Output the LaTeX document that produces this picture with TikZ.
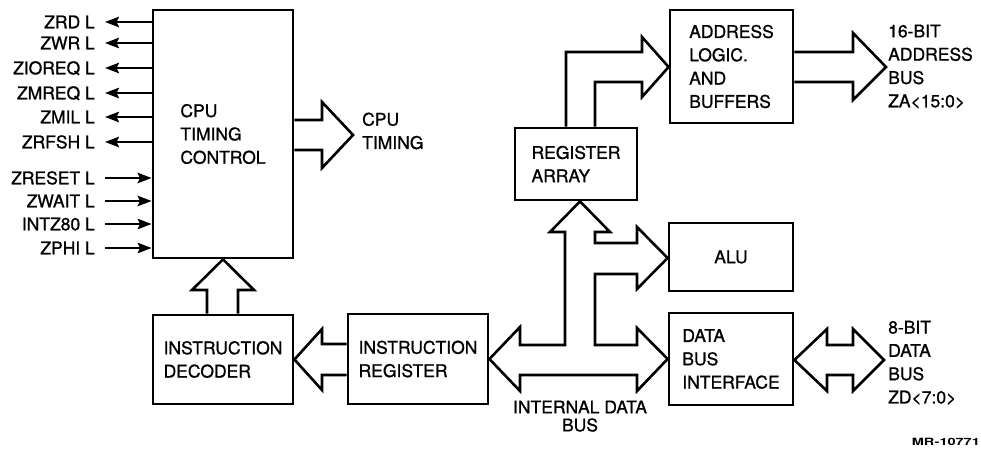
\documentclass[tikz,border=0pt]{standalone}
\usepackage{fontspec}
\setmainfont{TeX Gyre Heros}
\newfontfamily\dgfam{TeX Gyre Heros}[FakeBold=1.0]
\usetikzlibrary{arrows.meta}
\newcommand\dgfont{\dgfam\fontsize{17.5}{23.3}\selectfont}
\tikzset{
  box/.style={draw, line width=2.8pt, inner sep=0pt, align=left, font=\dgfont},
  blk/.style={draw, line width=2.6pt, line join=miter},
  txt/.style={inner sep=0pt, align=left, font=\dgfont},
  sl/.style={inner sep=0pt, font=\dgfont, text height=12.6pt, text depth=0pt, anchor=east},
  sig/.style={line width=2pt, -{Stealth[length=14pt,width=10.5pt,inset=2.5pt]}},
}
\begin{document}
\begin{tikzpicture}[x=1pt,y=-1pt]
\useasboundingbox (0,0) rectangle (981,452);
% boxes
\node[box, minimum width=140pt, minimum height=248pt] (cpu) at (223,134) {CPU\\TIMING\\CONTROL};
\node[box, minimum width=140pt, minimum height=89pt] (dec) at (223,359.5) {INSTRUCTION\\DECODER};
\node[box, minimum width=140pt, minimum height=90pt] (ir) at (418,359) {INSTRUCTION\\REGISTER};
\node[box, minimum width=122pt, minimum height=72pt] (reg) at (576,164) {REGISTER\\ARRAY};
\node[box, minimum width=123pt, minimum height=113pt] (addr) at (731.5,66.5) {ADDRESS\\LOGIC.\\AND\\BUFFERS};
\node[box, minimum width=124pt, minimum height=68pt] (alu) at (731,257) {ALU};
\node[box, minimum width=124pt, minimum height=92pt] (dbi) at (731,359) {DATA\\BUS\\INTERFACE};
% signal labels
\node[sl] (s1) at (95,22) {ZRD L};
\node[sl] (s2) at (95,43) {ZWR L};
\node[sl] (s3) at (95,68) {ZIOREQ L};
\node[sl] (s4) at (95,93) {ZMREQ L};
\node[sl] (s5) at (95,117) {ZMIL L};
\node[sl] (s6) at (95,142) {ZRFSH L};
\node[sl] (s7) at (95,178) {ZRESET L};
\node[sl] (s8) at (95,201) {ZWAIT L};
\node[sl] (s9) at (95,224) {INTZ80 L};
\node[sl] (s10) at (95,248) {ZPHI L};
\foreach \s in {s1,s2,s3,s4,s5,s6}
  \draw[sig] (\s -| cpu.west) -- ([xshift=10pt]\s.east);
\foreach \s in {s7,s8,s9,s10}
  \draw[sig] ([xshift=10pt]\s.east) -- (\s -| cpu.west);
% outside texts
\node[txt, anchor=north west] (ct) at (362,112.4) {CPU\\TIMING};
\node[txt, anchor=north west] (ab) at (888,24.4) {16-BIT\\ADDRESS\\BUS\\ZA<15:0>};
\node[txt, anchor=north west] (db) at (888,320.6) {8-BIT\\DATA\\BUS\\ZD<7:0>};
\node[inner sep=0pt, align=center, font=\dgfam\fontsize{17.5}{18}\selectfont, anchor=north] (idb) at (580,400.4) {INTERNAL DATA\\BUS};
\node[inner sep=0pt, anchor=base east, font=\fontsize{10}{12}\selectfont\bfseries] (mr) at (980,445) {\scalebox{1.45}[1]{MR-10771}};
% block arrows
\draw[blk] (cpu.east |- 0,120) -- (322,120) -- (322,102) -- (353,135) -- (322,168) -- (322,150) -- (cpu.east |- 0,150);
\draw[blk] (dec.north -| 207,0) -- (207,290) -- (192,290) -- (cpu.south) -- (254,290) -- (238,290) -- (dec.north -| 238,0);
\draw[blk] (ir.west |- 0,344) -- (322,344) -- (322,329) -- (dec.east) -- (322,390) -- (322,375) -- (ir.west |- 0,375);
\draw[blk] (ir.east) -- (520,327) -- (520,345) -- (565,345) -- (565,232) -- (550,232) -- (reg.south -| 580,0)
  -- (610,232) -- (595,232) -- (595,243) -- (637,243) -- (637,227) -- (alu.west |- 0,258) -- (637,289)
  -- (637,274) -- (595,274) -- (595,345) -- (637,345) -- (637,328) -- (dbi.west) -- (637,391)
  -- (637,375) -- (520,375) -- (520,391) -- cycle;
\draw[blk] (reg.north -| 566,0) -- (566,52) -- (642,52) -- (642,37) -- (addr.west |- 0,67) -- (642,97) -- (642,82) -- (595,82) -- (reg.north -| 595,0);
\draw[blk] (addr.east |- 0,52) -- (853,52) -- (853,33) -- (886,67) -- (853,100) -- (853,82) -- (addr.east |- 0,82);
\draw[blk] (dbi.east |- 0,360) -- (827,329) -- (827,345) -- (853,345) -- (853,329) -- (884,360) -- (853,391) -- (853,375) -- (827,375) -- (827,391) -- cycle;
\end{tikzpicture}
\end{document}
